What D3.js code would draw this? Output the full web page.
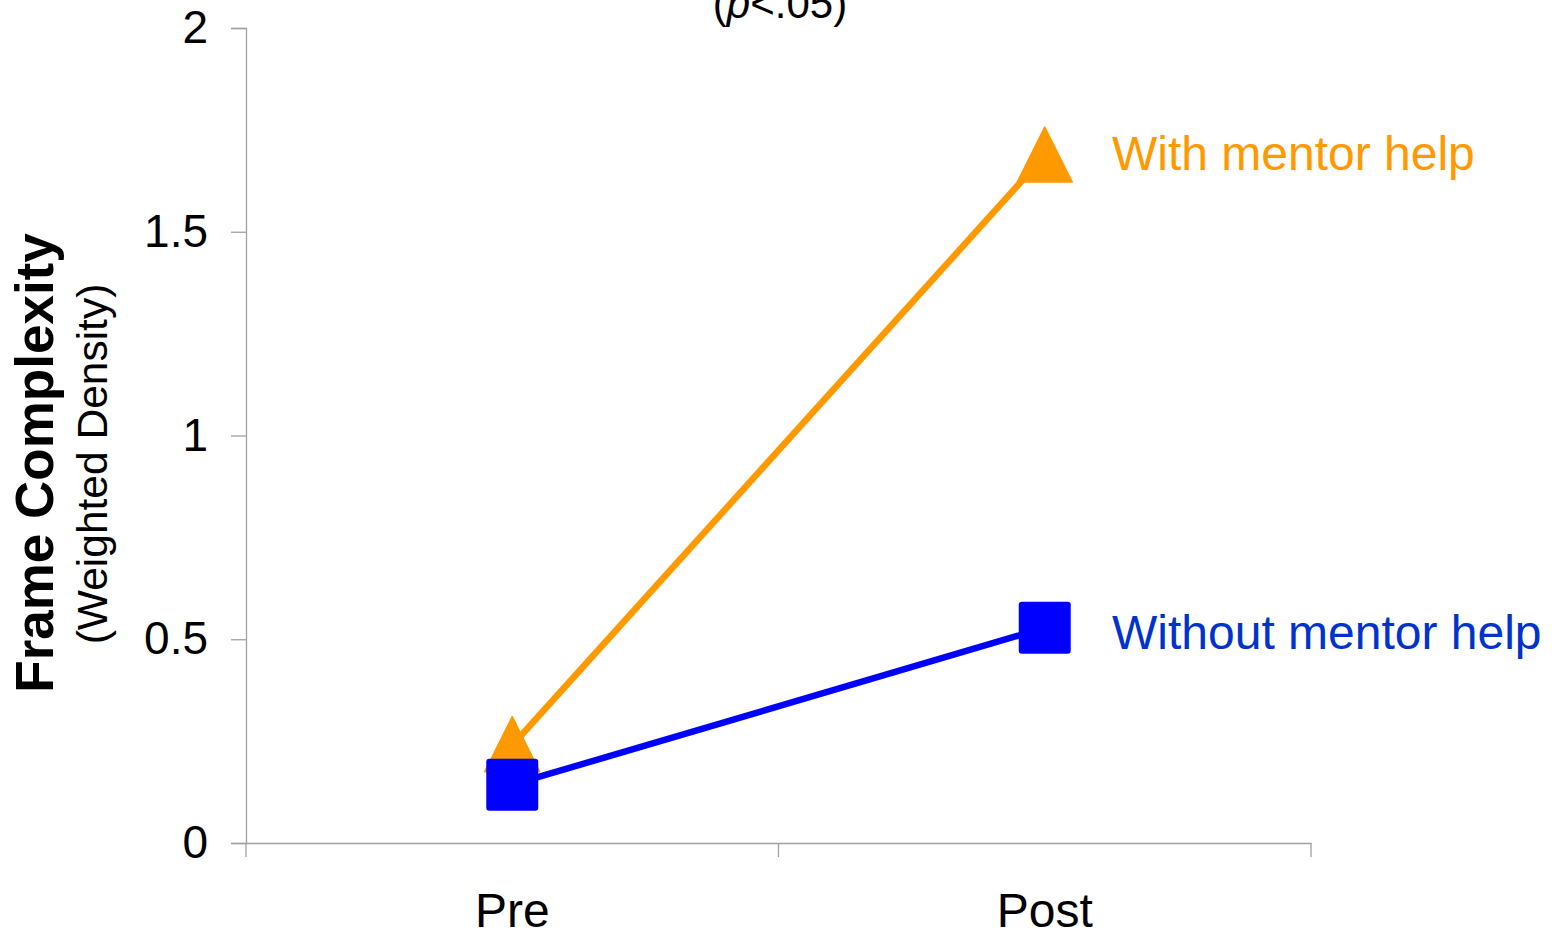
<!DOCTYPE html>
<html>
<head>
<meta charset="utf-8">
<script src="https://cdn.jsdelivr.net/npm/d3@7/dist/d3.min.js"></script>
<style>
  html, body { margin: 0; padding: 0; background: #fff; }
  svg { display: block; }
  text { font-family: "Liberation Sans", Arial, sans-serif; }
</style>
</head>
<body>
<svg id="chart" width="1552" height="939"></svg>
<script>
const categories = ["Pre", "Post"];
const withMentor = [0.24, 1.687];
const withoutMentor = [0.143, 0.528];
const seriesNames = ["With mentor help", "Without mentor help"];
const yTicks = [0, 0.5, 1, 1.5, 2];
const yTickLabels = ["0", "0.5", "1", "1.5", "2"];

const svg = d3.select("#chart");
const plotLeft = 246, plotRight = 1311, plotTop = 28, plotBottom = 843;

const x = d3.scaleBand().domain(categories).range([plotLeft, plotRight]).padding(0);
const y = d3.scaleLinear().domain([0, 2]).range([plotBottom, plotTop]);
const cx = c => x(c) + x.bandwidth() / 2;

const axisColor = "#a0a0a0";

// Y axis
const yAxis = svg.append("g").attr("transform", `translate(${plotLeft},0)`)
  .call(d3.axisLeft(y).tickValues(yTicks).tickSize(15)
    .tickFormat((d, i) => yTickLabels[i]));
yAxis.select(".domain").attr("stroke", axisColor).attr("stroke-width", 1.3);
yAxis.selectAll(".tick line").attr("stroke", axisColor).attr("stroke-width", 1.3);
yAxis.selectAll(".tick text").attr("fill", "#000").attr("font-size", 46)
  .attr("x", -38).attr("dy", "0.32em")
  .style("font-family", "'Liberation Sans', Arial, sans-serif");

// X axis
const xAxis = svg.append("g").attr("transform", `translate(0,${plotBottom})`)
  .call(d3.axisBottom(x).tickSize(0).tickPadding(0));
xAxis.select(".domain").attr("stroke", axisColor).attr("stroke-width", 1.3);
xAxis.selectAll(".tick line").remove();
xAxis.selectAll(".tick text").attr("fill", "#000").attr("font-size", 48)
  .attr("y", 84).attr("dy", 0)
  .style("font-family", "'Liberation Sans', Arial, sans-serif");
// category boundary ticks
const bounds = [x(categories[0]), x(categories[1]), x(categories[1]) + x.bandwidth()];
svg.append("g").selectAll("line").data(bounds).join("line")
  .attr("x1", d => d).attr("x2", d => d)
  .attr("y1", plotBottom).attr("y2", plotBottom + 14)
  .attr("stroke", axisColor).attr("stroke-width", 1.3);

// Title fragment (cut off at top, as in the original)
const title = svg.append("text").attr("x", 780).attr("y", 18)
  .attr("text-anchor", "middle").attr("font-size", 42).attr("fill", "#000");
title.append("tspan").text("(");
title.append("tspan").attr("font-style", "italic").text("p");
title.append("tspan").text("<.05)");

// Y axis labels
svg.append("text")
  .attr("transform", `translate(53,463) rotate(-90)`)
  .attr("text-anchor", "middle").attr("font-size", 53).attr("font-weight", "bold")
  .attr("fill", "#000").text("Frame Complexity");
svg.append("text")
  .attr("transform", `translate(107,464) rotate(-90)`)
  .attr("text-anchor", "middle").attr("font-size", 42.5)
  .attr("fill", "#000").text("(Weighted Density)");

const line = d3.line().x((d, i) => cx(categories[i])).y(d => y(d));

// Orange series
const orange = "#ff9900";
svg.append("path").datum(withMentor).attr("d", line)
  .attr("fill", "none").attr("stroke", orange).attr("stroke-width", 6.5);
svg.append("g").selectAll("path").data(withMentor).join("path")
  .attr("d", (d, i) => {
    const px = cx(categories[i]), py = y(d);
    const p = d3.path();
    p.moveTo(px, py - 28.5);
    p.lineTo(px + 27.5, py + 26.5);
    p.lineTo(px - 27.5, py + 26.5);
    p.closePath();
    return p.toString();
  })
  .attr("fill", orange).attr("stroke", orange).attr("stroke-width", 1.5)
  .attr("stroke-linejoin", "round");

// Blue series
const blue = "#0000ff";
svg.append("path").datum(withoutMentor).attr("d", line)
  .attr("fill", "none").attr("stroke", blue).attr("stroke-width", 6.5);
svg.append("g").selectAll("rect").data(withoutMentor).join("rect")
  .attr("x", (d, i) => cx(categories[i]) - 26)
  .attr("y", d => y(d) - 26)
  .attr("width", 52).attr("height", 52).attr("rx", 3)
  .attr("fill", blue);

// Series labels
svg.append("text").attr("x", 1112).attr("y", y(withMentor[1]) + 14)
  .attr("font-size", 48).attr("fill", orange).text(seriesNames[0]);
svg.append("text").attr("x", 1112).attr("y", y(withoutMentor[1]) + 21)
  .attr("font-size", 48).attr("fill", "#0033cc").text(seriesNames[1]);
</script>
</body>
</html>
